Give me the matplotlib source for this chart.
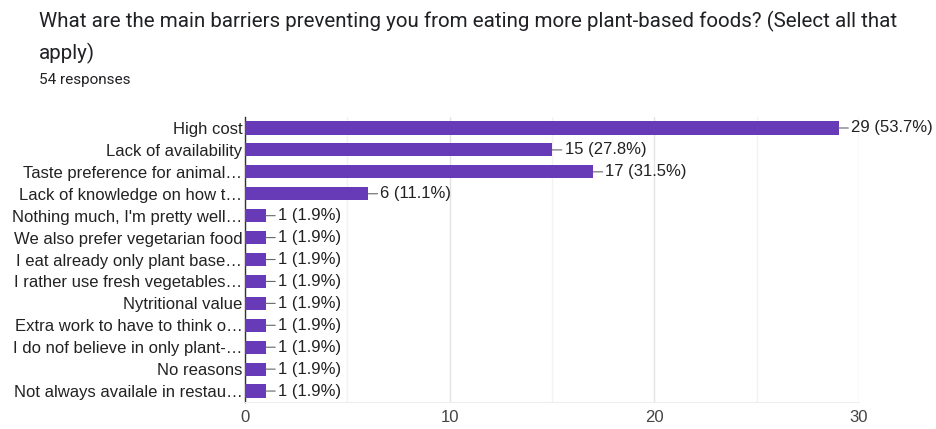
import matplotlib.pyplot as plt
from matplotlib.ticker import MultipleLocator

# Survey answers (top to bottom as shown)
labels = [
    "High cost",
    "Lack of availability",
    "Taste preference for animal\u2026",
    "Lack of knowledge on how t\u2026",
    "Nothing much, I'm pretty well\u2026",
    "We also prefer vegetarian food",
    "I eat already only plant base\u2026",
    "I rather use fresh vegetables\u2026",
    "Nytritional value",
    "Extra work to have to think o\u2026",
    "I do nof believe in only plant-\u2026",
    "No reasons",
    "Not always availale in restau\u2026",
]
counts = [29, 15, 17, 6, 1, 1, 1, 1, 1, 1, 1, 1, 1]
total = 54
xticks = [0, 10, 20, 30]

plt.rcParams['font.family'] = ['Liberation Sans', 'DejaVu Sans']

fig = plt.figure(figsize=(9.36, 4.29), dpi=100)
ax = fig.add_axes([0.2618, 0.0629, 0.6560, 0.6643])

y = list(range(len(labels)))
ax.barh(y, counts, height=0.6, color='#673ab7', zorder=3)
ax.set_ylim(len(labels) - 0.5, -0.5)
ax.set_xlim(0, 30)

ax.set_yticks(y)
ax.set_yticklabels(labels, fontsize=12, color='#222222')
ax.set_xticks(xticks)
ax.set_xticklabels([str(t) for t in xticks], fontsize=12, color='#444444')
ax.xaxis.set_minor_locator(MultipleLocator(5))
ax.tick_params(axis='both', which='both', length=0)
ax.tick_params(axis='y', pad=2)
ax.tick_params(axis='x', pad=6)

ax.grid(axis='x', which='major', color='#e3e3e3', linewidth=1, zorder=0)
ax.grid(axis='x', which='minor', color='#f2f2f2', linewidth=1, zorder=0)
for s in ['top', 'right']:
    ax.spines[s].set_visible(False)
ax.spines['bottom'].set_color('#eeeeee')
ax.spines['left'].set_color('#333333')
ax.spines['left'].set_linewidth(1)

for yi, c in zip(y, counts):
    pct = c / total * 100
    ax.annotate(f"{c} ({pct:.1f}%)", xy=(c, yi), xytext=(9, 0),
                textcoords='offset points', va='center', ha='left',
                fontsize=12, color='#222222', clip_on=False,
                arrowprops=dict(arrowstyle='-', color='#666666', lw=0.8,
                                shrinkA=0, shrinkB=0))

title_font = ['Roboto', 'DejaVu Sans']
fig.text(0.042, 0.951, "What are the main barriers preventing you from eating more plant-based foods? (Select all that",
         fontsize=14.8, family=title_font, color='#202124', va='center')
fig.text(0.042, 0.876, "apply)", fontsize=14.8, family=title_font,
         color='#202124', va='center')
fig.text(0.042, 0.813, "54 responses", fontsize=11, family=title_font,
         color='#202124', va='center')

fig.savefig('out.png', dpi=100)
